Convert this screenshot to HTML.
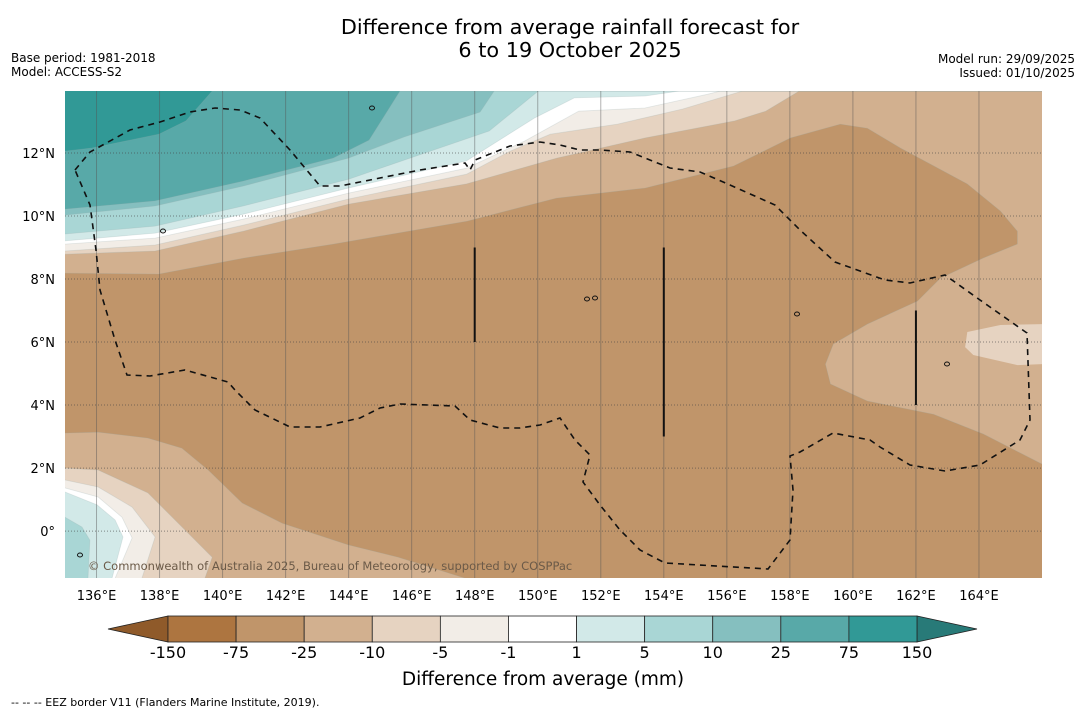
<!DOCTYPE html>
<html><head><meta charset="utf-8">
<style>
html,body{margin:0;padding:0;background:#fff;}
svg{display:block;font-family:"DejaVu Sans","Liberation Sans",sans-serif;}
</style></head>
<body>
<svg id="chart" width="1085" height="713" viewBox="0 0 1085 713" xmlns="http://www.w3.org/2000/svg">
<text x="570" y="34" font-size="20.8" text-anchor="middle">Difference from average rainfall forecast for</text>
<text x="570" y="57" font-size="20.8" text-anchor="middle">6 to 19 October 2025</text>
<text x="11" y="62" font-size="12">Base period: 1981-2018</text>
<text x="11" y="76" font-size="12">Model: ACCESS-S2</text>
<text x="1075" y="63" font-size="12" text-anchor="end">Model run: 29/09/2025</text>
<text x="1075" y="77" font-size="12" text-anchor="end">Issued: 01/10/2025</text>
<defs><clipPath id="mapclip"><rect x="65" y="91" width="977" height="487"/></clipPath></defs>
<g id="map" clip-path="url(#mapclip)"></g>
<g id="axes"></g>
<g id="cbar"></g>
<text x="543" y="685" font-size="18.5" text-anchor="middle">Difference from average (mm)</text>
<text x="11" y="706" font-size="11">--  --  -- EEZ border V11 (Flanders Marine Institute, 2019).</text>
</svg>
<script>
// ---- data ----
const levels = ["-150","-75","-25","-10","-5","-1","1","5","10","25","75","150"];
const levelColors = ["#ad7540","#c0956a","#d2b08f","#e6d3c1","#f2ede7","#ffffff","#d2e9e8","#a9d6d5","#85bfbf","#58a9a8","#319996"];
const lonTicks = [136,138,140,142,144,146,148,150,152,154,156,158,160,162,164];
const latTicks = [0,2,4,6,8,10,12];
// contour boundaries [lon,lat]
const north_m25 = [[135,8.19],[137.98,8.16],[140.68,8.67],[143.5,9.11],[147.76,9.84],[150.59,10.57],[153.41,10.89],[155.16,11.33],[156.21,11.59],[158.02,12.48],[159.6,12.92],[160.46,12.79],[161.51,12.16],[163.63,11.02],[164.68,10.16],[165.22,9.52],[165.22,9.11],[164.14,8.67],[162.78,8.03],[162.05,7.3],[160.46,6.57],[159.38,5.94],[159.13,5.3],[159.29,4.67],[160.46,4.13],[162.56,3.71],[164.14,3.08],[166,2.13]];
const east_m10 = [[163.63,6.32],[164.68,6.54],[166,6.57],[166,5.3],[165.22,5.27],[163.82,5.59],[163.56,5.84]];
const north_m10 = [[135,8.79],[137.86,8.89],[140.65,9.52],[144.0,10.38],[147.74,11.02],[150.6,11.84],[153.41,12.48],[156.25,13.02],[157.23,13.33],[158.3,13.97]];
const north_m5 = [[135,8.89],[137.86,9.08],[140.65,9.71],[144.0,10.54],[147.74,11.33],[149.12,12.06],[150.4,12.6],[152.53,12.92],[154.6,13.4],[156.5,13.97]];
const north_m1 = [[135,9.11],[137.86,9.3],[140.65,9.9],[144.0,10.73],[147.74,11.52],[149.58,12.38],[151.3,13.33],[153.4,13.43],[155.4,13.87],[155.8,13.97]];
const north_p1 = [[135,9.21],[137.86,9.46],[140.65,10.06],[144.0,10.89],[147.74,11.75],[149.89,13.11],[151.16,13.75],[153.41,13.81],[154.5,13.97]];
const north_p5 = [[135,9.43],[137.86,9.68],[140.65,10.32],[144.0,11.17],[146.33,11.97],[148.46,12.7],[150.02,13.97]];
const north_p10 = [[135,10.03],[137.86,10.32],[140.65,10.95],[144.0,11.84],[145.76,12.51],[148.17,13.3],[148.62,13.97]];
const north_p25 = [[135,10.22],[137.86,10.48],[140.65,11.11],[143.51,11.84],[144.65,12.41],[145.63,13.97]];
const north_p75 = [[135,12.06],[135.85,12.16],[137.98,12.6],[138.84,13.02],[139.67,13.97]];
const south_m25 = [[135,3.11],[136.05,3.14],[137.63,2.95],[138.71,2.63],[139.54,1.94],[140.62,0.89],[141.89,0.25],[143.98,-0.44],[145.57,-0.83],[147.7,-1.5]];
const south_m10 = [[135,2.0],[136.05,1.94],[137.63,1.21],[138.49,0.35],[139.67,-0.83],[139.44,-1.5]];
const south_m5 = [[135,1.62],[136.05,1.4],[137.13,0.76],[137.86,-0.19],[137.44,-1.5]];
const south_m1 = [[135,1.37],[136.05,1.08],[136.81,0.44],[137.13,-0.22],[136.59,-1.5]];
const south_p1 = [[135,1.24],[136.02,0.83],[136.59,0.35],[136.84,-0.19],[136.49,-1.5]];
const south_p5 = [[135,0.44],[135.54,0.13],[135.79,-0.29],[135.73,-1.5]];
// ---- scales ----
const X0=65, X1=1042, Y0=91, Y1=578, LON0=135, LON1=166, LAT_TOP=13.97, LAT_BOT=-1.49;
const xs = lon => X0 + (lon-LON0)/(LON1-LON0)*(X1-X0);
const ys = lat => Y0 + (LAT_TOP-lat)/(LAT_TOP-LAT_BOT)*(Y1-Y0);
const NS="http://www.w3.org/2000/svg";
const map=document.getElementById('map'), axes=document.getElementById('axes'), cbar=document.getElementById('cbar');
function mk(tag,attrs,parent){const e=document.createElementNS(NS,tag);for(const k in attrs)e.setAttribute(k,attrs[k]);parent.appendChild(e);return e;}
function pts(arr){return arr.map(p=>xs(p[0]).toFixed(1)+','+ys(p[1]).toFixed(1)).join(' ');}
let bg=mk('rect',{x:X0,y:Y0,width:X1-X0,height:Y1-Y0,fill:levelColors[1]},map);


function northBand(arr,ci,name){
  const closed=arr.concat([[LON1+1,arr[arr.length-1][1]],[LON1+1,LAT_TOP+1],[LON0-1,LAT_TOP+1],[LON0-1,arr[0][1]]]);
  const p=mk('polygon',{points:pts(closed),fill:levelColors[ci],stroke:'#9aa',"stroke-opacity":0.25,"stroke-width":0.8},map);
  
  
}
function southBand(arr,ci,name){
  const closed=arr.concat([[arr[arr.length-1][0],LAT_BOT-1],[LON0-1,LAT_BOT-1],[LON0-1,arr[0][1]]]);
  const p=mk('polygon',{points:pts(closed),fill:levelColors[ci],stroke:'#9aa',"stroke-opacity":0.25,"stroke-width":0.8},map);
  
  
}
northBand(north_m25,2,'contour-north-minus25');
let ep=mk('polygon',{points:pts(east_m10),fill:levelColors[3]},map);


northBand(north_m10,3,'contour-north-minus10');
northBand(north_m5,4,'contour-north-minus5');
northBand(north_m1,5,'contour-north-minus1');
northBand(north_p1,6,'contour-north-plus1');
northBand(north_p5,7,'contour-north-plus5');
northBand(north_p10,8,'contour-north-plus10');
northBand(north_p25,9,'contour-north-plus25');
northBand(north_p75,10,'contour-north-plus75');
southBand(south_m25,2,'contour-south-minus25');
southBand(south_m10,3,'contour-south-minus10');
southBand(south_m5,4,'contour-south-minus5');
southBand(south_m1,5,'contour-south-minus1');
southBand(south_p1,6,'contour-south-plus1');
southBand(south_p5,7,'contour-south-plus5');
lonTicks.forEach(l=>{
  const g=mk('line',{x1:xs(l),x2:xs(l),y1:Y0,y2:Y1,stroke:'#555',"stroke-opacity":0.45,"stroke-width":1},map);
  
  
});
latTicks.forEach(l=>{
  const g=mk('line',{x1:X0,x2:X1,y1:ys(l),y2:ys(l),stroke:'#444',"stroke-opacity":0.6,"stroke-width":1,"stroke-dasharray":"1,2"},map);
  
  
});
const eez="M75,170 L90,152 L130,130 L160,122 L190,112 L215,108 L240,110 L260,118 L290,150 L320,186 L340,186 L360,182 L420,170 L465,163 L470,170 L475,160 L510,146 L540,142 L560,145 L580,150 L600,150 L630,152 L670,168 L700,172 L730,185 L775,205 L800,230 L835,262 L885,280 L910,283 L945,275 L980,300 L1027,333 L1030,420 L1020,440 L980,465 L945,471 L910,465 L880,447 L870,440 L833,433 L800,452 L790,456 L793,490 L790,540 L768,569 L665,563 L640,550 L620,530 L600,505 L583,482 L590,455 L575,440 L560,418 L540,425 L520,428 L500,428 L470,420 L455,406 L400,404 L380,408 L360,418 L320,427 L290,427 L255,410 L235,390 L228,382 L185,370 L150,376 L127,375 L115,340 L100,290 L96,250 L90,205 Z";
let ez=mk('path',{d:eez,fill:'none',stroke:'#111',"stroke-width":1.6,"stroke-dasharray":"6,5"},map);


[[148,6,9],[154,3,9],[162,4,7]].forEach(s=>{
  const l=mk('line',{x1:xs(s[0]),x2:xs(s[0]),y1:ys(s[2]),y2:ys(s[1]),stroke:'#111',"stroke-width":2},map);
  
  
});
[[372,108],[163,231],[587,299],[595,298],[797,314],[947,364],[80,555]].forEach(p=>{
  const c=mk('ellipse',{cx:p[0],cy:p[1],rx:2.5,ry:2,fill:'none',stroke:'#111',"stroke-width":1},map);
  
  
});
let cp=mk('text',{x:88,y:570,"font-size":11.5,fill:'#6b5a48'},map);
cp.textContent='© Commonwealth of Australia 2025, Bureau of Meteorology, supported by COSPPac';


lonTicks.forEach(l=>{
  const t=mk('text',{x:xs(l),y:600,"font-size":13,"text-anchor":"middle"},axes);
  t.textContent=l+'°E';
  
  
});
latTicks.forEach(l=>{
  const t=mk('text',{x:55,y:ys(l)+5,"font-size":13,"text-anchor":"end"},axes);
  t.textContent=l===0?'0°':l+'°N';
  
  
});
const CB0=168, CB1=917, CBY=616, CBH=26, n=levelColors.length, bw=(CB1-CB0)/n;
let lt=mk('polygon',{points:`108,${CBY+CBH/2} ${CB0},${CBY} ${CB0},${CBY+CBH}`,fill:'#8f5a2a',stroke:'#222',"stroke-width":0.8},cbar);


let rt=mk('polygon',{points:`977,${CBY+CBH/2} ${CB1},${CBY} ${CB1},${CBY+CBH}`,fill:'#287a78',stroke:'#222',"stroke-width":0.8},cbar);


levelColors.forEach((c,i)=>{
  const r=mk('rect',{x:CB0+i*bw,y:CBY,width:bw,height:CBH,fill:c,stroke:'#222',"stroke-width":0.8},cbar);
  
  
});
levels.forEach((lv,i)=>{
  const t=mk('text',{x:CB0+i*bw,y:658,"font-size":16,"text-anchor":"middle"},cbar);
  t.textContent=lv;
  
  
});
</script>
</body></html>
